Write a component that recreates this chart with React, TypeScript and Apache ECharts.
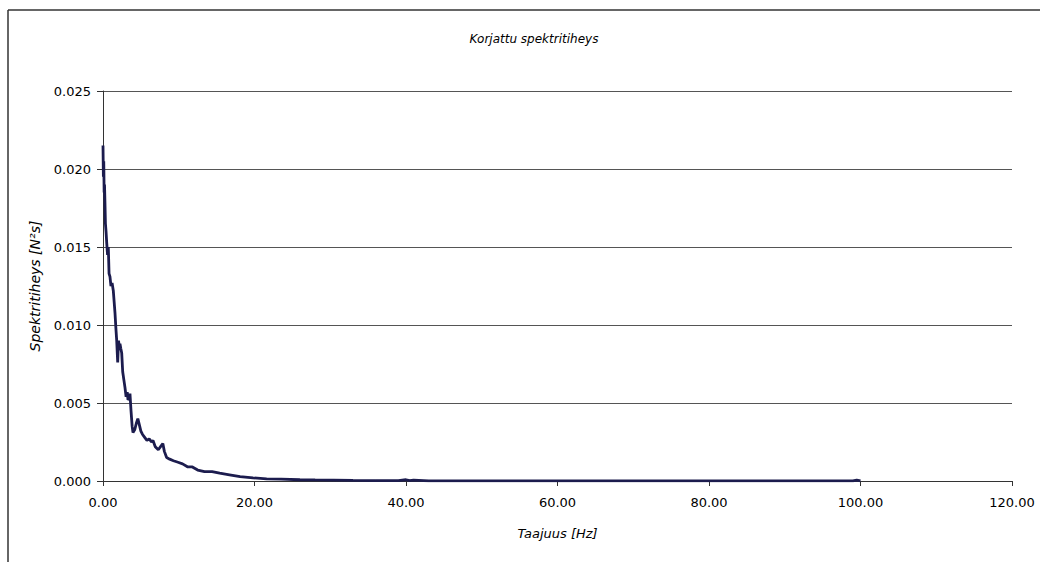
import React, { useEffect, useRef } from "react";
import * as echarts from "echarts";

const freqHz = [0, 0.05, 0.1, 0.15, 0.2, 0.26, 0.32, 0.4, 0.5, 0.6, 0.7, 0.8, 0.92, 1.05, 1.2, 1.36, 1.47, 1.58, 1.7, 1.81, 1.94, 2.05, 2.15, 2.24, 2.35, 2.47, 2.6, 2.75, 2.9, 3.05, 3.2, 3.3, 3.45, 3.56, 3.7, 3.85, 3.96, 4.2, 4.4, 4.6, 4.8, 5.0, 5.2, 5.5, 5.8, 6.1, 6.4, 6.6, 6.9, 7.3, 7.6, 7.9, 8.1, 8.4, 8.8, 9.3, 9.9, 10.5, 11.2, 11.8, 12.5, 13.4, 14.4, 15.4, 16.7, 18.1, 19.8, 21.6, 23.5, 26, 28, 30.4, 33, 36, 39, 40, 40.5, 41, 43, 47, 52, 60, 70, 80, 90, 97, 99, 99.5, 100];
const density = [0.0215, 0.0195, 0.0205, 0.0185, 0.019, 0.0178, 0.0165, 0.016, 0.0152, 0.0145, 0.015, 0.0133, 0.0131, 0.0125, 0.0127, 0.0122, 0.0115, 0.0108, 0.0098, 0.009, 0.0076, 0.009, 0.0086, 0.0088, 0.0085, 0.0082, 0.007, 0.0065, 0.006, 0.0054, 0.0057, 0.0052, 0.0053, 0.0056, 0.0045, 0.0035, 0.0031, 0.0033, 0.0037, 0.004, 0.0036, 0.0032, 0.003, 0.0028, 0.0026, 0.0027, 0.0025, 0.0026, 0.0022, 0.002, 0.0022, 0.0024, 0.0019, 0.0015, 0.0014, 0.0013, 0.0012, 0.0011, 0.0009, 0.0009, 0.0007, 0.0006, 0.0006, 0.0005, 0.0004, 0.00028, 0.0002, 0.00013, 0.00012, 0.00008, 0.00007, 0.00006, 0.00004, 0.00003, 0.00002, 0.00008, 0.00002, 0.00006, 0.00001, 0.00001, 0.00001, 0.00001, 0.00001, 0.00001, 0.00001, 0.00001, 0.00001, 0.00006, 0.00001];

const titleText = "Korjattu spektritiheys";
const xName = "Taajuus [Hz]";
const yName = "Spektritiheys [N²s]";

export default function App() {
  const ref = useRef<HTMLDivElement>(null);
  useEffect(() => {
    if (!ref.current) return;
    const chart = echarts.init(ref.current, null, { renderer: "svg" });
    const font = "'DejaVu Sans', sans-serif";
    chart.setOption({
      animation: false,
      backgroundColor: "#fff",
      title: {
        text: titleText,
        left: 529,
        top: 28,
        textAlign: "center",
        textStyle: { fontFamily: font, fontStyle: "italic", fontWeight: "normal", fontSize: 12, color: "#000" },
      },
      grid: { left: 103, right: 28, top: 91, bottom: 81 },
      xAxis: {
        type: "value",
        min: 0,
        max: 120,
        interval: 20,
        name: xName,
        nameLocation: "middle",
        nameGap: 46,
        nameTextStyle: { fontFamily: font, fontStyle: "italic", fontSize: 13, color: "#000" },
        axisLine: { show: true, onZero: false, lineStyle: { color: "#333", width: 1 } },
        axisTick: { show: true, inside: false, length: 5, lineStyle: { color: "#333" } },
        axisLabel: { fontFamily: font, fontSize: 13, color: "#000", margin: 15, formatter: (v: number) => v.toFixed(2) },
        splitLine: { show: false },
      },
      yAxis: {
        type: "value",
        min: 0,
        max: 0.025,
        interval: 0.005,
        name: yName,
        nameLocation: "middle",
        nameGap: 61,
        nameRotate: 90,
        nameTextStyle: { fontFamily: font, fontStyle: "italic", fontSize: 14, color: "#000" },
        axisLine: { show: true, lineStyle: { color: "#333", width: 1 } },
        axisTick: { show: true, inside: false, length: 6, lineStyle: { color: "#333" } },
        axisLabel: { fontFamily: font, fontSize: 13, color: "#000", margin: 12, formatter: (v: number) => v.toFixed(3) },
        splitLine: { show: true, lineStyle: { color: "#555", width: 1 } },
      },
      series: [
        {
          type: "line",
          data: freqHz.map((f, i) => [f, density[i]]),
          showSymbol: false,
          lineStyle: { color: "#1c1c4e", width: 2.8 },
          itemStyle: { color: "#1c1c4e" },
        },
      ],
      graphic: [
        { type: "line", shape: { x1: 8, y1: 10, x2: 1040, y2: 10 }, style: { stroke: "#333", lineWidth: 1.5 } },
        { type: "line", shape: { x1: 8, y1: 10, x2: 8, y2: 562 }, style: { stroke: "#333", lineWidth: 1.5 } },
      ],
    });
    return () => chart.dispose();
  }, []);
  return <div ref={ref} style={{ position: "absolute", left: 0, top: 0, width: 1040, height: 562 }} />;
}
